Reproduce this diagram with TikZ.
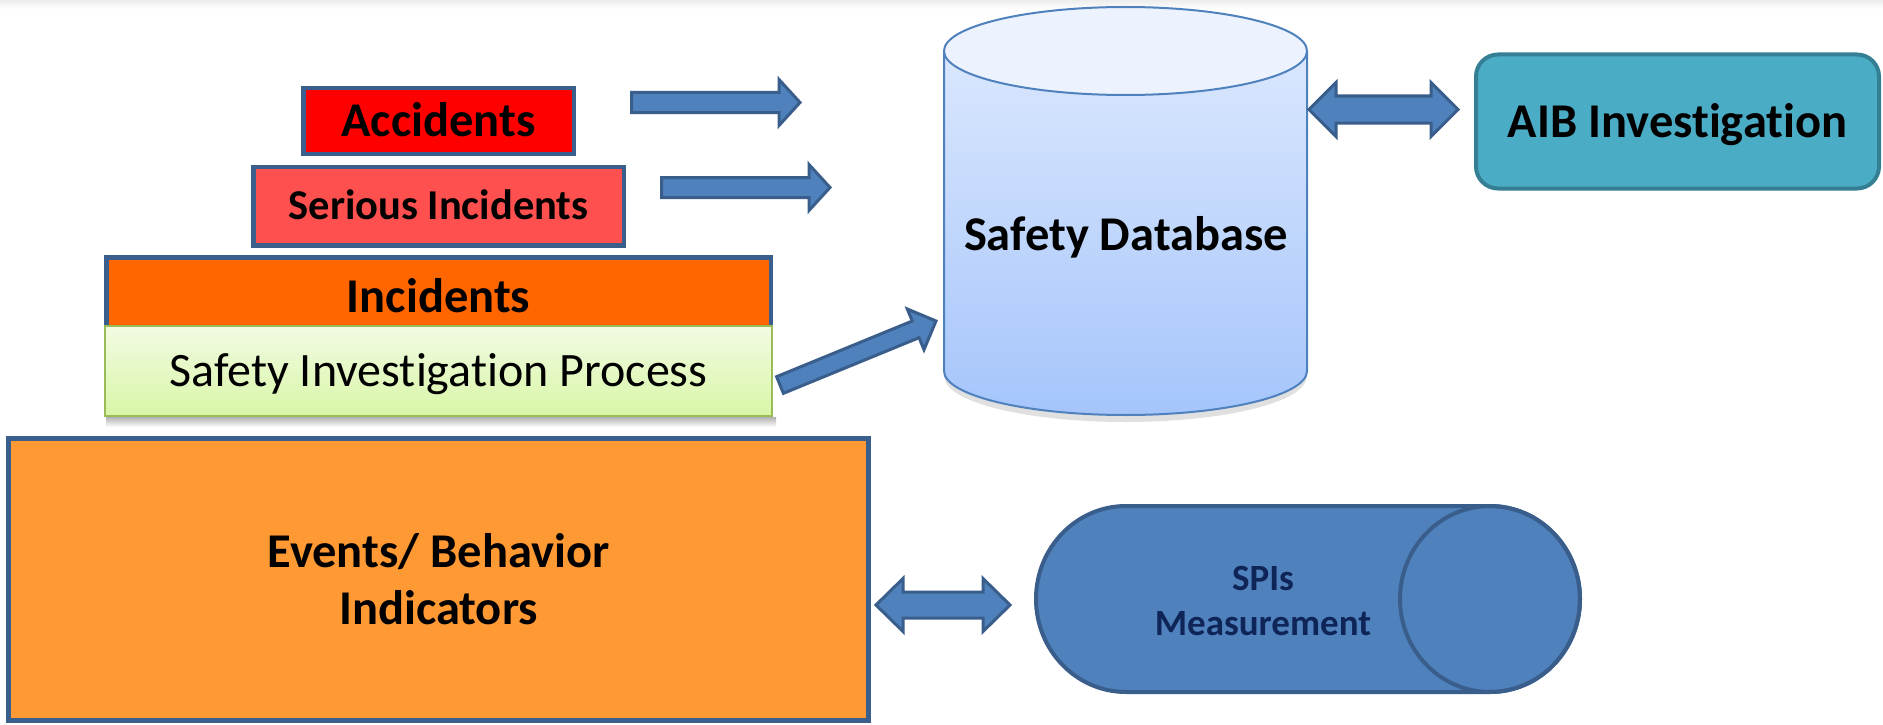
\documentclass[tikz,border=0pt]{standalone}
\usepackage{fontspec}
\setmainfont{Carlito}[Ligatures=NoCommon]
\usetikzlibrary{calc}

\definecolor{borderblue}{HTML}{3B5F8D}
\definecolor{arrowfill}{HTML}{4F81BD}
\definecolor{arrowline}{HTML}{3A5E8C}
\definecolor{accred}{HTML}{FF0000}
\definecolor{serred}{HTML}{FF5050}
\definecolor{incorange}{HTML}{FF6600}
\definecolor{evtorange}{HTML}{FF9933}
\definecolor{siptop}{HTML}{F2FBE3}
\definecolor{sipbot}{HTML}{D8F6A6}
\definecolor{sipline}{HTML}{9BBB59}
\definecolor{aibfill}{HTML}{4BACC6}
\definecolor{aibline}{HTML}{357F94}
\definecolor{dbtop}{HTML}{ECF3FE}
\definecolor{dbupper}{HTML}{DAE7FD}
\definecolor{dblower}{HTML}{A5C5FB}
\definecolor{dbline}{HTML}{4F81BD}
\definecolor{spifill}{HTML}{4F81BD}
\definecolor{spiline}{HTML}{3A5E8C}
\definecolor{spitext}{HTML}{0F2557}

% block arrow with one head: tail, tip, shaft half width, head half width, head length
\newcommand{\blockarrowone}[5]{%
  \draw[blockarrow] ($(#1)!#3!90:(#2)$)
    -- ($($(#2)!#5!(#1)$)!#3!90:(#2)$)
    -- ($($(#2)!#5!(#1)$)!#4!90:(#2)$)
    -- (#2)
    -- ($($(#2)!#5!(#1)$)!#4!-90:(#2)$)
    -- ($($(#2)!#5!(#1)$)!#3!-90:(#2)$)
    -- ($(#1)!#3!-90:(#2)$) -- cycle;}

% block arrow with heads at both ends
\newcommand{\blockarrowtwo}[5]{%
  \draw[blockarrow] (#1)
    -- ($($(#1)!#5!(#2)$)!#4!90:(#2)$)
    -- ($($(#1)!#5!(#2)$)!#3!90:(#2)$)
    -- ($($(#2)!#5!(#1)$)!#3!90:(#2)$)
    -- ($($(#2)!#5!(#1)$)!#4!90:(#2)$)
    -- (#2)
    -- ($($(#2)!#5!(#1)$)!#4!-90:(#2)$)
    -- ($($(#2)!#5!(#1)$)!#3!-90:(#2)$)
    -- ($($(#1)!#5!(#2)$)!#3!-90:(#2)$)
    -- ($($(#1)!#5!(#2)$)!#4!-90:(#2)$) -- cycle;}

\tikzset{
  bigbold/.style={font=\fontsize{48.5}{57}\selectfont\bfseries},
  capline/.style={text height=31pt, text depth=0pt},
  layer/.style={draw=borderblue, line width=4.5pt, inner sep=0pt, capline, bigbold},
  blockarrow/.style={fill=arrowfill, draw=arrowline, line width=3pt, line join=miter},
}

\begin{document}
\begin{tikzpicture}[x=1pt, y=-1pt]
\useasboundingbox (0,0) rectangle (1883,725);
\fill[white] (0,0) rectangle (1883,725);
\shade[top color=black!7, bottom color=white] (0,0) rectangle (1883,9);

% pyramid of occurrence layers
\node[layer, fill=accred, minimum width=270.5pt, minimum height=65.5pt] (acc) at (438.5,121) {Accidents};
\node[layer, fill=serred, minimum width=370.5pt, minimum height=78.5pt,
      text height=27.5pt, font=\fontsize{42.5}{50}\selectfont\bfseries] (ser) at (438.5,206) {Serious Incidents};
\node[layer, fill=incorange, minimum width=664.5pt, minimum height=78.5pt] (inc) at (438.5,296.5) {Incidents};
\shade[top color=black!30, bottom color=white] (106,417) rectangle (776,427);
\node[draw=sipline, line width=2pt, top color=siptop, bottom color=sipbot,
      minimum width=667pt, minimum height=90pt, inner sep=0pt,
      text height=30.5pt, text depth=0pt, font=\fontsize{48}{57}\selectfont]
      (sip) at (438.5,371) {Safety Investigation Process};

% events and behaviour indicators
\node[draw=borderblue, line width=5pt, fill=evtorange, minimum width=860pt,
      minimum height=282pt, inner sep=0pt, align=center, bigbold]
      (evt) at (438.5,579.5) {Events/ Behavior\\Indicators};

% safety database cylinder
\fill[black, opacity=0.12] (1125.5,377) ellipse [x radius=181pt, y radius=45pt];
\shade[top color=dbupper, bottom color=dblower]
  (944,51) -- (944,371) arc[start angle=180, end angle=360, x radius=181.5pt, y radius=44pt] -- (1307,51) -- cycle;
\draw[dbline, line width=2pt]
  (944,51) -- (944,371) arc[start angle=180, end angle=360, x radius=181.5pt, y radius=44pt] -- (1307,51);
\filldraw[fill=dbtop, draw=dbline, line width=2pt] (1125.5,51) ellipse [x radius=181.5pt, y radius=44pt];
\node[inner sep=0pt, capline, bigbold] (db) at (1126,234.5) {Safety Database};

% AIB investigation
\node[draw=aibline, line width=4pt, fill=aibfill, rounded corners=22pt,
      minimum width=403pt, minimum height=134pt, inner sep=0pt,
      capline, bigbold] (aib) at (1677.5,121.5) {AIB Investigation};

% SPIs measurement (horizontal cylinder)
\filldraw[fill=spifill, draw=spiline, line width=4pt]
  (1490,506) -- (1126,506) arc[start angle=90, end angle=270, x radius=90pt, y radius=93pt]
  -- (1490,692) arc[start angle=270, end angle=450, x radius=90pt, y radius=93pt] -- cycle;
\draw[spiline, line width=4pt] (1490,599) ellipse [x radius=90pt, y radius=93pt];
\node[inner sep=0pt, align=center, text=spitext,
      font=\fontsize{37}{45}\selectfont\bfseries] (spi) at (1263,601) {SPIs\\Measurement};

% arrow end points
\coordinate (accout) at (631.5,102.5);
\coordinate (acctip) at (800,102.5);
\coordinate (serout) at (661.5,187.5);
\coordinate (sertip) at (830,187.5);
\coordinate (sipout) at (780,385);
\coordinate (siptip) at (936,321);
\coordinate (dbport) at (1309,109.5);
\coordinate (aibport) at (1458,109.5);
\coordinate (evtport) at (876,605);
\coordinate (spiport) at (1010,605);

\blockarrowone{accout}{acctip}{10pt}{23pt}{21pt}
\blockarrowone{serout}{sertip}{10pt}{23pt}{21pt}
\blockarrowone{sipout}{siptip}{9pt}{22pt}{22pt}
\blockarrowtwo{dbport}{aibport}{13.5pt}{27pt}{27pt}
\blockarrowtwo{evtport}{spiport}{13pt}{26.5pt}{27pt}
\end{tikzpicture}
\end{document}
